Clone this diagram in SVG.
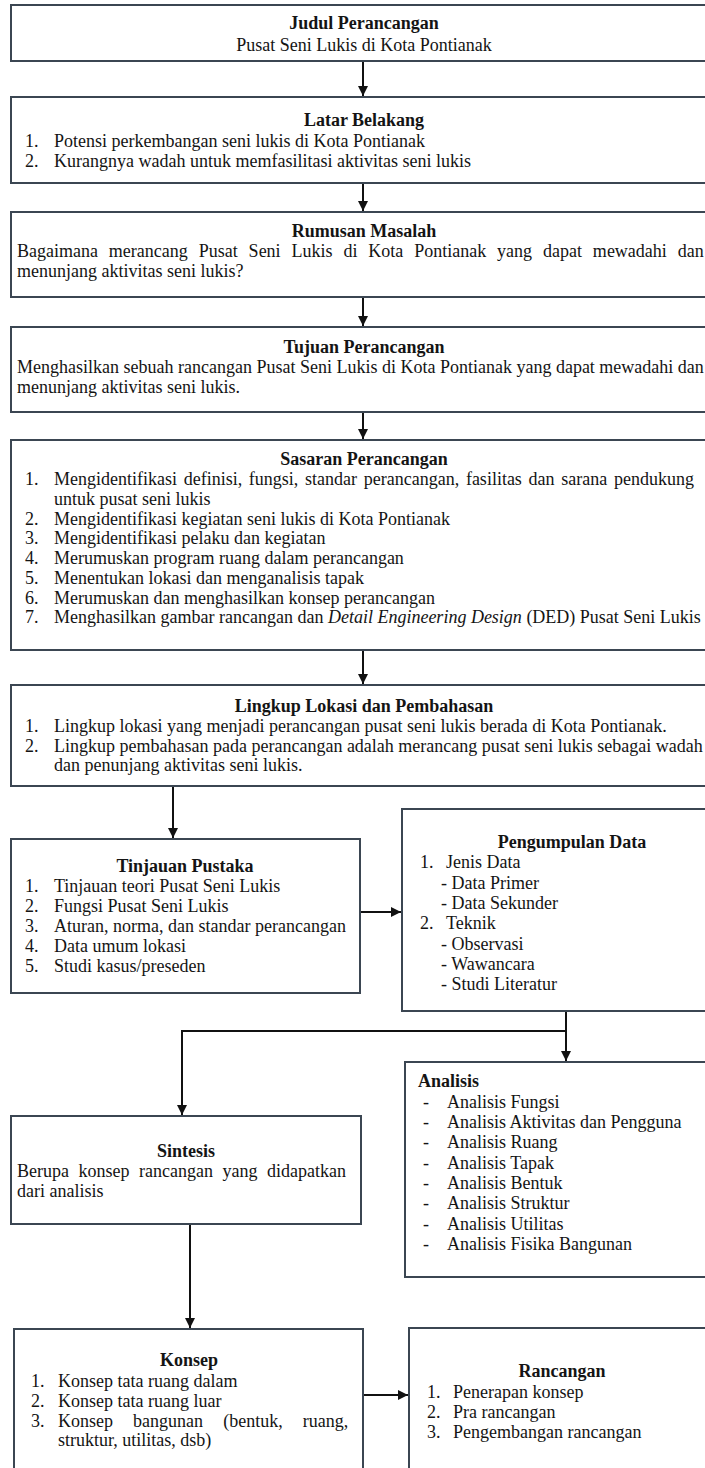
<svg xmlns="http://www.w3.org/2000/svg" width="705" height="1468" viewBox="0 0 705 1468">
<style>
.box{fill:#ffffff;stroke:#3b4652;stroke-width:2}
text{font-family:"Liberation Serif","Times New Roman",serif;font-size:18px;fill:#141414}
.t{font-weight:bold;text-anchor:middle}
.tl{font-weight:bold}
.c{text-anchor:middle}
.conn line,.conn polyline{stroke:#111;stroke-width:2;fill:none}
</style>
<defs>
<marker id="ah" viewBox="0 0 10 10" refX="10" refY="5" markerWidth="11" markerHeight="10" markerUnits="userSpaceOnUse" orient="auto">
<path d="M0,0 L10,5 L0,10 z" fill="#111"/>
</marker>
</defs>
<rect width="705" height="1468" fill="#ffffff"/>

<g class="conn">
<line x1="363" y1="61" x2="363" y2="96" marker-end="url(#ah)"/>
<line x1="363" y1="183" x2="363" y2="211" marker-end="url(#ah)"/>
<line x1="363" y1="297" x2="363" y2="326" marker-end="url(#ah)"/>
<line x1="363" y1="412" x2="363" y2="439" marker-end="url(#ah)"/>
<line x1="363" y1="650" x2="363" y2="684" marker-end="url(#ah)"/>
<line x1="173" y1="786" x2="173" y2="838" marker-end="url(#ah)"/>
<line x1="360" y1="912" x2="401" y2="912" marker-end="url(#ah)"/>
<line x1="566" y1="1011" x2="566" y2="1061" marker-end="url(#ah)"/>
<polyline points="566,1031 182,1031 182,1115" marker-end="url(#ah)"/>
<line x1="190" y1="1224" x2="190" y2="1328" marker-end="url(#ah)"/>
<line x1="363" y1="1395" x2="408" y2="1395" marker-end="url(#ah)"/>
</g>

<g id="judul">
<rect class="box" x="11" y="5" width="706" height="56"/>
<text class="t" x="364" y="29">Judul Perancangan</text>
<text class="c" x="364" y="51">Pusat Seni Lukis di Kota Pontianak</text>
</g>

<g id="latar">
<rect class="box" x="11" y="97" width="706" height="86"/>
<text class="t" x="364" y="126">Latar Belakang</text>
<text x="25" y="147">1.</text><text x="54" y="147">Potensi perkembangan seni lukis di Kota Pontianak</text>
<text x="25" y="167">2.</text><text x="54" y="167">Kurangnya wadah untuk memfasilitasi aktivitas seni lukis</text>
</g>

<g id="rumusan">
<rect class="box" x="11" y="212" width="706" height="85"/>
<text class="t" x="364" y="237">Rumusan Masalah</text>
<text x="17" y="257" style="word-spacing:6.4px">Bagaimana merancang Pusat Seni Lukis di Kota Pontianak yang dapat mewadahi dan</text>
<text x="17" y="277">menunjang aktivitas seni lukis?</text>
</g>

<g id="tujuan">
<rect class="box" x="11" y="327" width="706" height="85"/>
<text class="t" x="364" y="353">Tujuan Perancangan</text>
<text x="17" y="373">Menghasilkan sebuah rancangan Pusat Seni Lukis di Kota Pontianak yang dapat mewadahi dan</text>
<text x="17" y="393">menunjang aktivitas seni lukis.</text>
</g>

<g id="sasaran">
<rect class="box" x="11" y="440" width="706" height="210"/>
<text class="t" x="364" y="465">Sasaran Perancangan</text>
<text x="25" y="485">1.</text><text x="54" y="485" style="word-spacing:2.2px">Mengidentifikasi definisi, fungsi, standar perancangan, fasilitas dan sarana pendukung</text>
<text x="54" y="505">untuk pusat seni lukis</text>
<text x="25" y="525">2.</text><text x="54" y="525">Mengidentifikasi kegiatan seni lukis di Kota Pontianak</text>
<text x="25" y="544">3.</text><text x="54" y="544">Mengidentifikasi pelaku dan kegiatan</text>
<text x="25" y="564">4.</text><text x="54" y="564">Merumuskan program ruang dalam perancangan</text>
<text x="25" y="584">5.</text><text x="54" y="584">Menentukan lokasi dan menganalisis tapak</text>
<text x="25" y="604">6.</text><text x="54" y="604">Merumuskan dan menghasilkan konsep perancangan</text>
<text x="25" y="623">7.</text><text x="54" y="623">Menghasilkan gambar rancangan dan <tspan font-style="italic">Detail Engineering Design</tspan> (DED) Pusat Seni Lukis</text>
</g>

<g id="lingkup">
<rect class="box" x="11" y="685" width="706" height="101"/>
<text class="t" x="364" y="712">Lingkup Lokasi dan Pembahasan</text>
<text x="25" y="732">1.</text><text x="54" y="732">Lingkup lokasi yang menjadi perancangan pusat seni lukis berada di Kota Pontianak.</text>
<text x="25" y="752">2.</text><text x="54" y="752">Lingkup pembahasan pada perancangan adalah merancang pusat seni lukis sebagai wadah</text>
<text x="54" y="771">dan penunjang aktivitas seni lukis.</text>
</g>

<g id="tinjauan">
<rect class="box" x="11" y="839" width="349" height="154"/>
<text class="t" x="185" y="872">Tinjauan Pustaka</text>
<text x="25" y="892">1.</text><text x="54" y="892">Tinjauan teori Pusat Seni Lukis</text>
<text x="25" y="912">2.</text><text x="54" y="912">Fungsi Pusat Seni Lukis</text>
<text x="25" y="932">3.</text><text x="54" y="932">Aturan, norma, dan standar perancangan</text>
<text x="25" y="952">4.</text><text x="54" y="952">Data umum lokasi</text>
<text x="25" y="972">5.</text><text x="54" y="972">Studi kasus/preseden</text>
</g>

<g id="pengumpulan">
<rect class="box" x="402" y="809" width="330" height="202"/>
<text class="t" x="572" y="848">Pengumpulan Data</text>
<text x="420" y="868">1.</text><text x="446" y="868">Jenis Data</text>
<text x="441" y="889">- Data Primer</text>
<text x="441" y="909">- Data Sekunder</text>
<text x="420" y="929">2.</text><text x="446" y="929">Teknik</text>
<text x="441" y="950">- Observasi</text>
<text x="441" y="970">- Wawancara</text>
<text x="441" y="990">- Studi Literatur</text>
</g>

<g id="analisis">
<rect class="box" x="405" y="1062" width="327" height="215"/>
<text class="tl" x="418" y="1087">Analisis</text>
<text x="423" y="1108">-</text><text x="447" y="1108">Analisis Fungsi</text>
<text x="423" y="1128">-</text><text x="447" y="1128">Analisis Aktivitas dan Pengguna</text>
<text x="423" y="1148">-</text><text x="447" y="1148">Analisis Ruang</text>
<text x="423" y="1169">-</text><text x="447" y="1169">Analisis Tapak</text>
<text x="423" y="1189">-</text><text x="447" y="1189">Analisis Bentuk</text>
<text x="423" y="1209">-</text><text x="447" y="1209">Analisis Struktur</text>
<text x="423" y="1230">-</text><text x="447" y="1230">Analisis Utilitas</text>
<text x="423" y="1250">-</text><text x="447" y="1250">Analisis Fisika Bangunan</text>
</g>

<g id="sintesis">
<rect class="box" x="11" y="1116" width="350" height="108"/>
<text class="t" x="186" y="1157">Sintesis</text>
<text x="17" y="1177" style="word-spacing:5px">Berupa konsep rancangan yang didapatkan</text>
<text x="17" y="1197">dari analisis</text>
</g>

<g id="konsep">
<rect class="box" x="14" y="1329" width="349" height="150"/>
<text class="t" x="189" y="1366">Konsep</text>
<text x="31" y="1387">1.</text><text x="58" y="1387">Konsep tata ruang dalam</text>
<text x="31" y="1407">2.</text><text x="58" y="1407">Konsep tata ruang luar</text>
<text x="31" y="1427">3.</text><text x="58" y="1427" style="word-spacing:15.6px">Konsep bangunan (bentuk, ruang,</text>
<text x="58" y="1446">struktur, utilitas, dsb)</text>
</g>

<g id="rancangan">
<rect class="box" x="409" y="1328" width="323" height="150"/>
<text class="t" x="562" y="1377">Rancangan</text>
<text x="427" y="1398">1.</text><text x="453" y="1398">Penerapan konsep</text>
<text x="427" y="1418">2.</text><text x="453" y="1418">Pra rancangan</text>
<text x="427" y="1438">3.</text><text x="453" y="1438">Pengembangan rancangan</text>
</g>
</svg>
